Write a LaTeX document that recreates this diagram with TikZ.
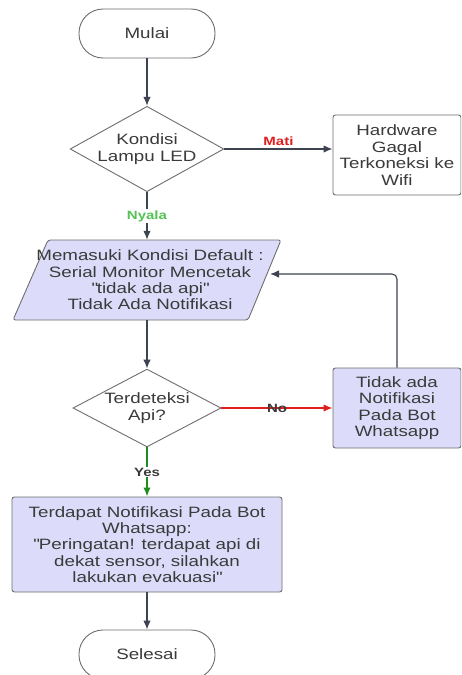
\documentclass[tikz,border=0pt]{standalone}
\usepackage{fontspec}
\setmainfont[FakeStretch=1.25]{Liberation Sans}
\usetikzlibrary{shapes.geometric,arrows.meta}
\definecolor{ln}{HTML}{3D4350}
\definecolor{bd}{HTML}{6E6E6E}
\definecolor{tx}{HTML}{3A3A3A}
\definecolor{lav}{HTML}{DCDCFA}
\definecolor{redc}{HTML}{E01E1E}
\definecolor{grnc}{HTML}{1E8C1E}
\definecolor{lgrn}{HTML}{55C255}
\begin{document}
\begin{tikzpicture}[x=1pt,y=-1pt,
  font=\fontsize{15}{16.4}\selectfont, text=tx,
  term/.style={draw=bd, line width=0.9pt, rounded corners=24pt, minimum width=136pt, minimum height=49pt, align=center, fill=white},
  dec/.style={draw=bd, line width=0.9pt, diamond, aspect=1.8, inner sep=0pt, minimum width=148pt, minimum height=80pt, align=center, fill=white},
  procbox/.style={draw=bd, line width=0.9pt, rounded corners=2.5pt, align=center, inner sep=2pt},
  conn/.style={ln, line width=1.4pt, -{Latex[length=9pt,width=7.5pt]}},
  lab/.style={font=\bfseries\fontsize{12}{14}\selectfont, fill=white, inner sep=1pt}
]
\clip (0,0) rectangle (461,675);
\fill[white] (0,0) rectangle (461,675);

\node[term] (start) at (147,33.5) {Mulai};
\node[dec] (d1) at (147,149) {Kondisi\\Lampu LED};
\node[procbox, fill=white, minimum width=128pt, minimum height=80pt] (hw) at (397,155) {Hardware\\Gagal\\Terkoneksi ke\\Wifi};

\draw[draw=bd, line width=0.9pt, fill=lav, rounded corners=2.5pt] (13,320) -- (48,240) -- (281,240) -- (248,320) -- cycle;
\node[align=center, minimum width=235pt, minimum height=80pt, inner sep=0pt] (p) at (150,280) {Memasuki Kondisi Default :\\Serial Monitor Mencetak\\\textquotedbl tidak ada api\textquotedbl\\Tidak Ada Notifikasi};
\coordinate (pin) at (270,274);

\node[dec, minimum height=76pt] (d2) at (147,408) {Terdeteksi\\Api?};
\node[procbox, fill=lav, minimum width=128pt, minimum height=80pt] (tb) at (397,408) {Tidak ada\\Notifikasi\\Pada Bot\\Whatsapp};
\node[procbox, fill=lav, minimum width=270pt, minimum height=95pt] (nb) at (147,544.5) {Terdapat Notifikasi Pada Bot\\Whatsapp:\\\textquotedbl Peringatan! terdapat api di\\dekat sensor, silahkan\\lakukan evakuasi\textquotedbl};
\node[term] (end) at (147,654.5) {Selesai};

\draw[conn] (start) -- (d1);
\draw[conn] (d1.east) -- node[above=2pt, lab, fill=none, text=redc] {Mati} (d1.east -| hw.west);
\draw[conn] (d1.south) -- node[lab, text=lgrn] {Nyala} (d1.south |- p.north);
\draw[conn] (d1.south |- p.south) -- (d2.north);
\draw[conn, redc, -{Latex[length=9pt,width=7.5pt]}] (d2.east) -- node[lab, text=tx, fill=none] {No} (tb.west);
\draw[conn, line width=1.1pt, rounded corners=5pt] (tb.north) |- (pin);
\draw[conn, grnc, line width=2pt] (d2.south) -- node[lab, text=tx] {Yes} (nb.north);
\draw[conn] (nb.south) -- (end.north);
\end{tikzpicture}
\end{document}
